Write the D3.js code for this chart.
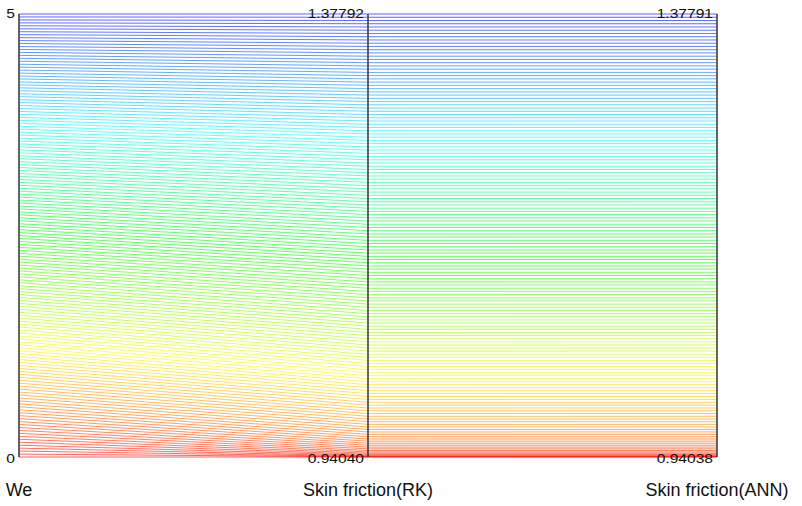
<!DOCTYPE html>
<html>
<head>
<meta charset="utf-8">
<script src="https://cdnjs.cloudflare.com/ajax/libs/d3/7.8.5/d3.min.js"></script>
<style>
body { margin: 0; background: #fff; }
text { font-family: "Liberation Sans", Arial, sans-serif; fill: #111; }
</style>
</head>
<body>
<div id="graph"></div>
<script>

// axis names, left to right
const dimensions = ["We", "Skin friction(RK)", "Skin friction(ANN)"];

// Weissenberg number, one polyline each
const weValues = [
	0, 0.033, 0.067, 0.1, 0.133, 0.167, 0.2, 0.233, 0.267, 0.3, 0.333, 0.367, 0.4, 0.433, 0.467, 0.5, 0.533, 0.567, 0.6, 0.633, 0.667, 0.7, 0.733, 0.767, 0.8, 0.833, 0.867, 0.9, 0.933, 0.967,
	1, 1.033, 1.067, 1.1, 1.133, 1.167, 1.2, 1.233, 1.267, 1.3, 1.333, 1.367, 1.4, 1.433, 1.467, 1.5, 1.533, 1.567, 1.6, 1.633, 1.667, 1.7, 1.733, 1.767, 1.8, 1.833, 1.867, 1.9, 1.933, 1.967,
	2, 2.033, 2.067, 2.1, 2.133, 2.167, 2.2, 2.233, 2.267, 2.3, 2.333, 2.367, 2.4, 2.433, 2.467, 2.5, 2.533, 2.567, 2.6, 2.633, 2.667, 2.7, 2.733, 2.767, 2.8, 2.833, 2.867, 2.9, 2.933, 2.967,
	3, 3.033, 3.067, 3.1, 3.133, 3.167, 3.2, 3.233, 3.267, 3.3, 3.333, 3.367, 3.4, 3.433, 3.467, 3.5, 3.533, 3.567, 3.6, 3.633, 3.667, 3.7, 3.733, 3.767, 3.8, 3.833, 3.867, 3.9, 3.933, 3.967,
	4, 4.033, 4.067, 4.1, 4.133, 4.167, 4.2, 4.233, 4.267, 4.3, 4.333, 4.367, 4.4, 4.433, 4.467, 4.5, 4.533, 4.567, 4.6, 4.633, 4.667, 4.7, 4.733, 4.767, 4.8, 4.833, 4.867, 4.9, 4.933, 4.967,
	5
];

// skin friction, Runge-Kutta solution
const cfRK = [
	0.94040, 0.94051, 0.94083, 0.94136, 0.94209, 0.94302, 0.94412, 0.94541, 0.94685, 0.94844,
	0.95016, 0.95201, 0.95397, 0.95603, 0.95819, 0.96043, 0.96274, 0.96513, 0.96757, 0.97008,
	0.97263, 0.97523, 0.97787, 0.98056, 0.98327, 0.98602, 0.98880, 0.99160, 0.99443, 0.99729,
	1.00016, 1.00305, 1.00596, 1.00889, 1.01183, 1.01478, 1.01775, 1.02073, 1.02373, 1.02673,
	1.02974, 1.03276, 1.03579, 1.03883, 1.04188, 1.04493, 1.04800, 1.05107, 1.05414, 1.05722,
	1.06030, 1.06339, 1.06649, 1.06958, 1.07269, 1.07580, 1.07891, 1.08202, 1.08514, 1.08826,
	1.09139, 1.09452, 1.09765, 1.10078, 1.10392, 1.10706, 1.11020, 1.11334, 1.11649, 1.11964,
	1.12279, 1.12594, 1.12910, 1.13225, 1.13541, 1.13857, 1.14173, 1.14489, 1.14806, 1.15122,
	1.15439, 1.15756, 1.16073, 1.16390, 1.16707, 1.17025, 1.17342, 1.17660, 1.17977, 1.18295,
	1.18613, 1.18931, 1.19249, 1.19567, 1.19885, 1.20204, 1.20522, 1.20840, 1.21159, 1.21478,
	1.21796, 1.22115, 1.22434, 1.22753, 1.23072, 1.23391, 1.23710, 1.24029, 1.24348, 1.24668,
	1.24987, 1.25306, 1.25626, 1.25945, 1.26265, 1.26584, 1.26904, 1.27224, 1.27543, 1.27863,
	1.28183, 1.28503, 1.28823, 1.29142, 1.29462, 1.29782, 1.30102, 1.30422, 1.30743, 1.31063,
	1.31383, 1.31703, 1.32023, 1.32344, 1.32664, 1.32984, 1.33304, 1.33625, 1.33945, 1.34266,
	1.34586, 1.34907, 1.35227, 1.35548, 1.35868, 1.36189, 1.36509, 1.36830, 1.37151, 1.37471,
	1.37792
];

// skin friction, neural network prediction
const cfANN = [
	0.94038, 0.94050, 0.94082, 0.94135, 0.94208, 0.94301, 0.94411, 0.94540, 0.94684, 0.94843,
	0.95015, 0.95200, 0.95396, 0.95602, 0.95818, 0.96042, 0.96273, 0.96512, 0.96756, 0.97007,
	0.97262, 0.97522, 0.97786, 0.98055, 0.98326, 0.98601, 0.98879, 0.99159, 0.99442, 0.99728,
	1.00015, 1.00304, 1.00595, 1.00888, 1.01182, 1.01477, 1.01774, 1.02072, 1.02372, 1.02672,
	1.02973, 1.03275, 1.03578, 1.03882, 1.04187, 1.04492, 1.04799, 1.05106, 1.05413, 1.05721,
	1.06029, 1.06338, 1.06648, 1.06957, 1.07268, 1.07579, 1.07890, 1.08201, 1.08513, 1.08825,
	1.09138, 1.09451, 1.09764, 1.10077, 1.10391, 1.10705, 1.11019, 1.11333, 1.11648, 1.11963,
	1.12278, 1.12593, 1.12909, 1.13224, 1.13540, 1.13856, 1.14172, 1.14488, 1.14805, 1.15121,
	1.15438, 1.15755, 1.16072, 1.16389, 1.16706, 1.17024, 1.17341, 1.17659, 1.17976, 1.18294,
	1.18612, 1.18930, 1.19248, 1.19566, 1.19884, 1.20203, 1.20521, 1.20839, 1.21158, 1.21477,
	1.21795, 1.22114, 1.22433, 1.22752, 1.23071, 1.23390, 1.23709, 1.24028, 1.24347, 1.24667,
	1.24986, 1.25305, 1.25625, 1.25944, 1.26264, 1.26583, 1.26903, 1.27223, 1.27542, 1.27862,
	1.28182, 1.28502, 1.28822, 1.29141, 1.29461, 1.29781, 1.30101, 1.30421, 1.30742, 1.31062,
	1.31382, 1.31702, 1.32022, 1.32343, 1.32663, 1.32983, 1.33303, 1.33624, 1.33944, 1.34265,
	1.34585, 1.34906, 1.35226, 1.35547, 1.35867, 1.36188, 1.36508, 1.36829, 1.37150, 1.37470,
	1.37791
];

const columns = [weValues, cfRK, cfANN];

function createGraph() {
	var width = 802, height = 506;
	var top = 14, bottom = 457;

	var svg = d3.select("#graph")
		.append("svg")
		.attr("width", width)
		.attr("height", height);

	// one vertical position per axis
	var x = d3.scalePoint()
		.domain(dimensions)
		.range([19, 717]);

	// each axis gets its own min..max scale
	var y = {};
	dimensions.forEach(function(dim, i) {
		y[dim] = d3.scaleLinear()
			.domain(d3.extent(columns[i]))
			.range([bottom, top]);
	});

	var rows = weValues.map(function(we, j) {
		var row = {};
		dimensions.forEach(function(dim, i) { row[dim] = columns[i][j]; });
		return row;
	});

	var hue = d3.scaleLinear()
		.domain(d3.extent(weValues))
		.range([0, 240]);

	var line = d3.line()
		.x(d => d[0])
		.y(d => d[1]);

	svg.append("g")
		.attr("class", "lines")
	  .selectAll("path")
	  .data(rows)
	  .enter().append("path")
		.attr("d", d => line(dimensions.map(dim => [x(dim), y[dim](d[dim])])))
		.attr("fill", "none")
		.attr("stroke", d => d3.hsl(hue(d.We), 1, 0.5))
		.attr("stroke-opacity", 0.62)
		.attr("stroke-width", 1);

	var axes = svg.append("g")
		.attr("class", "axes")
	  .selectAll("g")
	  .data(dimensions)
	  .enter().append("g")
		.attr("transform", d => "translate(" + x(d) + ",0)");

	axes.append("line")
		.attr("y1", top)
		.attr("y2", bottom)
		.attr("stroke", "#333")
		.attr("stroke-width", 1.5);

	// min / max labels, left of each axis
	var fmt = function(dim, v) {
		return dim == "We" ? d3.format("d")(v) : d3.format(".5f")(v);
	};

	axes.append("text")
		.attr("transform", "translate(-4," + (top + 4) + ") scale(1.2,1)")
		.attr("text-anchor", "end")
		.style("font-size", "13px")
		.text(d => fmt(d, y[d].domain()[1]));

	axes.append("text")
		.attr("transform", "translate(-4," + (bottom + 6) + ") scale(1.2,1)")
		.attr("text-anchor", "end")
		.style("font-size", "13px")
		.text(d => fmt(d, y[d].domain()[0]));

	axes.append("text")
		.attr("y", 496)
		.attr("text-anchor", "middle")
		.style("font-size", "18px")
		.text(d => d);
}

createGraph();
</script>
</body>
</html>
